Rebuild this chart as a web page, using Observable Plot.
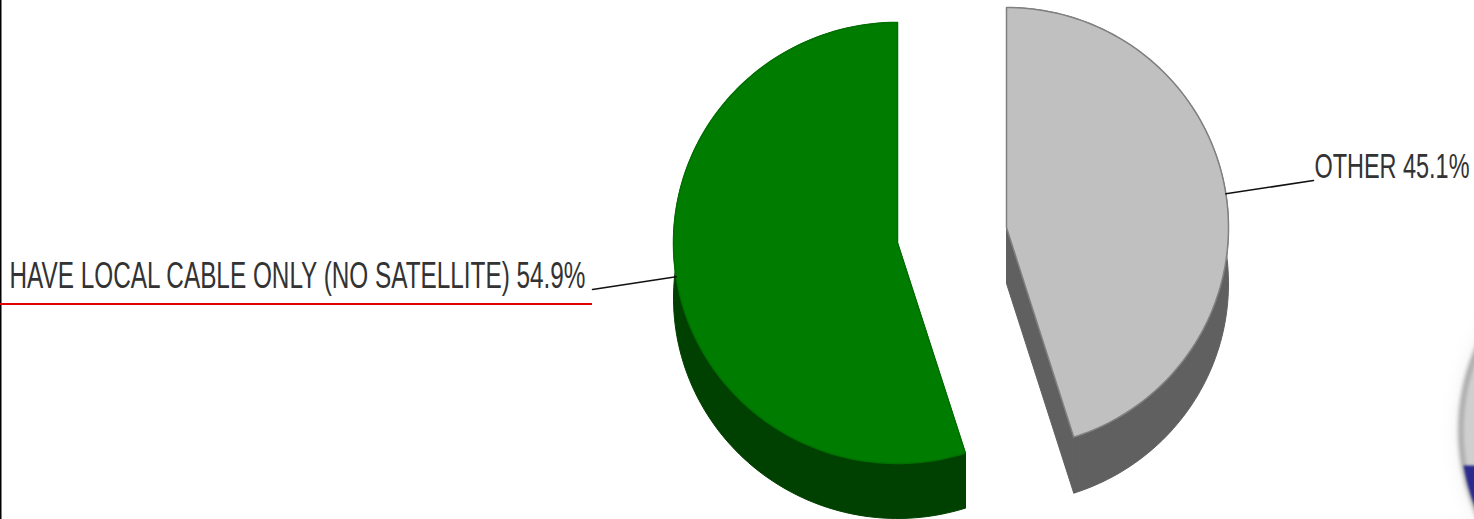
<!DOCTYPE html>
<html><head><meta charset="utf-8">
<script src="https://cdn.jsdelivr.net/npm/d3@7"></script>
<script src="https://cdn.jsdelivr.net/npm/@observablehq/plot@0.6"></script>
<style>html,body{margin:0;padding:0;background:#fff;overflow:hidden}svg{display:block}</style>
</head><body><div id="chart"></div>
<script>
const categories = ["OTHER", "HAVE LOCAL CABLE ONLY (NO SATELLITE)"];
const shares = [45.1, 54.9];
const topColors = ["#c0c0c0", "#007c00"];
const sideColors = ["#606060", "#004000"];
const outlineColors = ["#808080", "#007000"];

const W = 1474, H = 519;
// layout of each exploded slice: centre, radii, extrusion depth
const layout = [
  {cx: 1006, cy: 227, rx: 222, ry: 220, depth: 56},
  {cx: 897, cy: 242.5, rx: 224, ry: 220.5, depth: 55}
];
// leader elbow + label placement
const leaderEnds = [[1313, 180], [592, 289]];
const labelPos = [{x: 1314, y: 177, w: 155, size: 35}, {x: 9, y: 287, w: 576, size: 36}];

const total = d3.sum(shares);
const pt = (l, a, dy = 0) => ({x: l.cx + l.rx * Math.sin(a), y: l.cy - l.ry * Math.cos(a) + dy});

let acc = 0;
const slices = shares.map((v, i) => {
  const a0 = acc / total * 2 * Math.PI;
  acc += v;
  const a1 = acc / total * 2 * Math.PI;
  return {i, a0, a1, mid: (a0 + a1) / 2, l: layout[i]};
});

const arc = (s, dy = 0) => d3.range(0, 121).map(k => pt(s.l, s.a0 + (s.a1 - s.a0) * k / 120, dy));
const centre = s => ({x: s.l.cx, y: s.l.cy});

const tops = [], sides = [], leaders = [];
slices.forEach(s => {
  const d = s.l.depth;
  const a = arc(s), b = arc(s, d);
  const poly = (name, pts) => pts.forEach(p => sides.push({...p, piece: name, c: sideColors[s.i]}));
  poly(`w${s.i}`, [...a, ...b.slice().reverse(), a[0]]);
  const c0 = centre(s), c1 = {x: c0.x, y: c0.y + d};
  poly(`r${s.i}a`, [c0, a[0], b[0], c1, c0]);
  poly(`r${s.i}b`, [c0, a[120], b[120], c1, c0]);
  [c0, ...a, c0].forEach(p => tops.push({...p, piece: `t${s.i}`, c: topColors[s.i], o: outlineColors[s.i]}));
  const start = pt(s.l, s.mid);
  leaders.push({...start, piece: s.i}, {x: leaderEnds[s.i][0], y: leaderEnds[s.i][1], piece: s.i});
});

const labels = categories.map((c, i) => ({text: `${c} ${shares[i]}%`, ...labelPos[i]}));

// cropped round emblem in the lower right corner
const emblem = {x: 1668, y: 430, r: 208, bandTop: 465};
const bandStart = Math.asin((emblem.bandTop - emblem.y) / emblem.r);
const band = d3.range(0, 41).map(k => {
  const t = bandStart + (Math.PI / 2 - bandStart) * k / 40;
  return {x: emblem.x - emblem.r * Math.cos(t), y: emblem.y + emblem.r * Math.sin(t)};
});
band.push({x: emblem.x, y: emblem.y + emblem.r}, {x: emblem.x, y: emblem.bandTop});

const plot = Plot.plot({
  width: W, height: H, margin: 0,
  x: {domain: [0, W], range: [0, W], axis: null},
  y: {domain: [0, H], range: [0, H], axis: null},
  marks: [
    Plot.dot([emblem], {x: "x", y: "y", r: emblem.r + 6, fill: "#f4f4f4", imageFilter: "blur(8px)"}),
    Plot.dot([emblem], {x: "x", y: "y", r: emblem.r, fill: "#cfcfcf", stroke: "#9a9a9a", strokeWidth: 4, imageFilter: "blur(2px)"}),
    Plot.line(band, {x: "x", y: "y", fill: "#2b2b8c", stroke: "none", imageFilter: "blur(1px)"}),
    Plot.ruleX([0], {stroke: "#000", strokeWidth: 2}),
    Plot.ruleY([303.5], {x1: 0, x2: 592, stroke: "#e00000", strokeWidth: 2}),
    Plot.line(sides, {x: "x", y: "y", z: "piece", fill: "c", stroke: "c", strokeWidth: 1}),
    Plot.line(tops, {x: "x", y: "y", z: "piece", fill: "c", stroke: "o", strokeWidth: 1.5}),
    Plot.line(leaders, {x: "x", y: "y", z: "piece", stroke: "#111", strokeWidth: 1.6}),
    Plot.text(labels, {x: "x", y: "y", text: "text", textAnchor: "start", lineAnchor: "bottom", fontSize: "size", fill: "#333", fontFamily: "Liberation Sans Narrow, Liberation Sans"})
  ]
});
document.getElementById("chart").append(plot);
// condense the labels to the narrow width they have in the source
d3.select(plot).selectAll("text").filter(function () { return this.textContent.includes("%"); })
  .each(function () {
    const t = this.textContent;
    const m = labels.find(l => l.text === t);
    if (m) { this.setAttribute("textLength", m.w); this.setAttribute("lengthAdjust", "spacingAndGlyphs"); this.style.fontSize = m.size + "px"; }
  });
</script></body></html>
